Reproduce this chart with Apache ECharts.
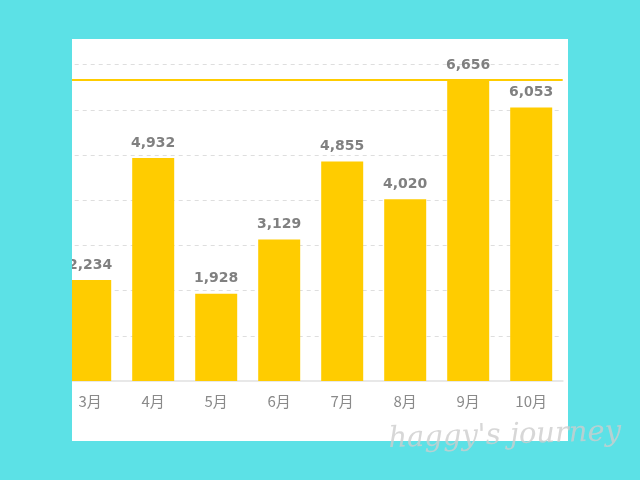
<!DOCTYPE html>
<html><head><meta charset="utf-8">
<script src="https://cdn.jsdelivr.net/npm/echarts@6/dist/echarts.min.js"></script>
<style>html,body{margin:0;padding:0;background:#5ce1e6}#c{width:640px;height:480px}</style>
</head><body><div id="c"></div>
<script>
const months = ['3月','4月','5月','6月','7月','8月','9月','10月'];
const visits = [2234, 4932, 1928, 3129, 4855, 4020, 6656, 6053];
const yMin = 0, yMax = 7000, yStep = 1000;
const watermark = "haggy's journey";

const chart = echarts.init(document.getElementById('c'), null, {renderer:'canvas'});
const cyan = '#5ce1e6';
chart.setOption({
  backgroundColor: '#ffffff',
  animation: false,
  grid: {left: 58.7, right: 77.3, top: 64.6, bottom: 99, containLabel: false},
  xAxis: {
    type: 'category', data: months,
    axisLine: {lineStyle: {color: '#e8e8e8', width: 2}},
    axisTick: {show: false},
    axisLabel: {color: '#8a8a8a', fontSize: 15, margin: 13, fontFamily: 'Noto Sans CJK JP'}
  },
  yAxis: {
    type: 'value', min: yMin, max: yMax, interval: yStep,
    axisLabel: {show: false}, axisLine: {show: false}, axisTick: {show: false},
    splitLine: {lineStyle: {color: '#dedede', type: [4, 4], width: 1}}
  },
  series: [{
    type: 'bar', data: visits, barWidth: 42,
    itemStyle: {color: '#ffcc00'},
    label: {show: true, position: 'top', distance: 8, color: '#808080', fontSize: 14,
      fontWeight: 'bold', fontFamily: 'DejaVu Sans',
      formatter: p => p.value.toLocaleString('en-US')},
    markLine: {
      silent: true, symbol: 'none', label: {show: false},
      lineStyle: {color: '#ffcc00', type: 'solid', width: 2},
      data: [{type: 'max'}]
    }
  }],
  graphic: [
    {type: 'rect', z: 100, shape: {x: 0, y: 0, width: 72, height: 480}, style: {fill: cyan}},
    {type: 'rect', z: 100, shape: {x: 568, y: 0, width: 72, height: 480}, style: {fill: cyan}},
    {type: 'rect', z: 100, shape: {x: 0, y: 0, width: 640, height: 39}, style: {fill: cyan}},
    {type: 'rect', z: 100, shape: {x: 0, y: 441, width: 640, height: 39}, style: {fill: cyan}},
    {type: 'text', z: 110, left: 388, top: 418, rotation: 0.03,
      style: {text: watermark, fill: 'rgba(205,205,205,0.8)',
        font: 'italic 29px "DejaVu Serif"'}}
  ]
});
</script></body></html>
